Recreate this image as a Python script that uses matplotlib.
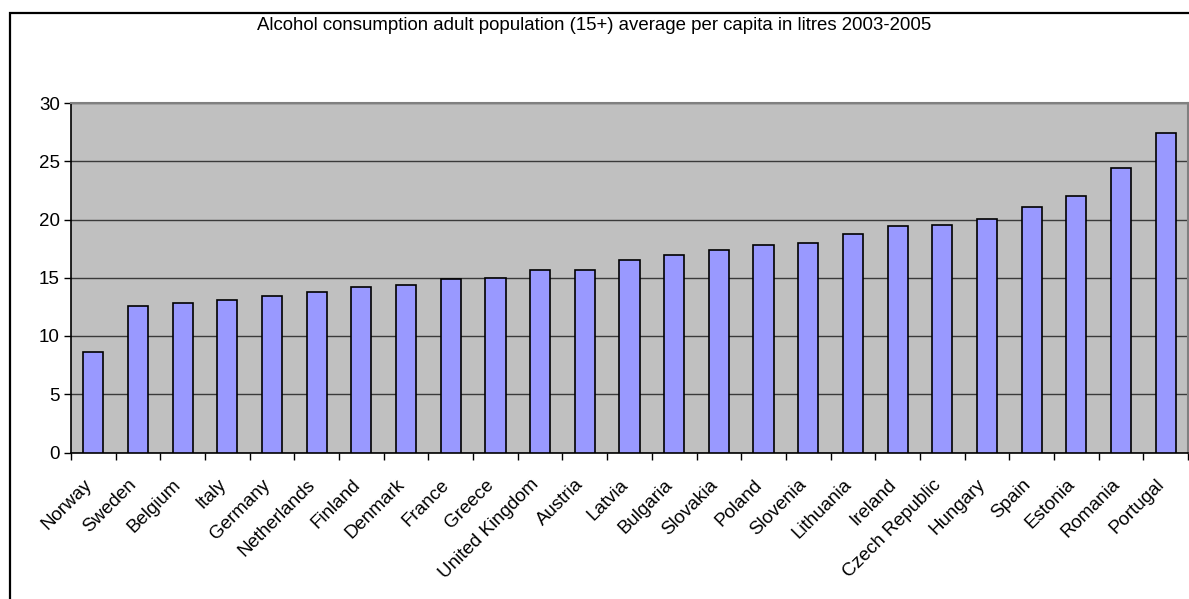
import numpy as np
import matplotlib
matplotlib.use("Agg")
import matplotlib.pyplot as plt
from matplotlib.patches import Rectangle
from matplotlib.transforms import ScaledTranslation

countries = ["Norway", "Sweden", "Belgium", "Italy", "Germany", "Netherlands",
             "Finland", "Denmark", "France", "Greece", "United Kingdom", "Austria",
             "Latvia", "Bulgaria", "Slovakia", "Poland", "Slovenia", "Lithuania",
             "Ireland", "Czech Republic", "Hungary", "Spain", "Estonia", "Romania",
             "Portugal"]
litres = [8.65, 12.55, 12.8, 13.05, 13.45, 13.8, 14.2, 14.35, 14.85, 15.0, 15.65,
          15.65, 16.55, 16.95, 17.35, 17.8, 17.95, 18.75, 19.4, 19.5, 20.05, 21.05,
          22.0, 24.45, 27.4]
yticks = [0, 5, 10, 15, 20, 25, 30]
title = "Alcohol consumption adult population (15+) average per capita in litres 2003-2005"

plt.rcParams["font.family"] = ["Liberation Sans", "DejaVu Sans"]

fig = plt.figure(figsize=(11.89, 5.99), dpi=100)
ax = fig.add_axes([71 / 1189, 1 - 452.5 / 599, 1117 / 1189, 349.5 / 599])

# outer chart frame
fig.patches.append(Rectangle((9.5 / 1189, -0.05), 1.2, 1.05 - 13 / 599,
                             transform=fig.transFigure, fill=False,
                             edgecolor="black", linewidth=1.6))

x = np.arange(len(countries))
ax.set_facecolor("#c0c0c0")
ax.bar(x, litres, width=0.45, color="#9999ff", edgecolor="black", linewidth=1.2, zorder=3)

ax.set_ylim(0, 30)
ax.set_xlim(-0.5, len(countries) - 0.5)
ax.set_yticks(yticks)
ax.yaxis.grid(True, color="#3a3a3a", linewidth=1.0, zorder=0)
ax.set_axisbelow(True)

# ticks between categories, labels under each bar
ax.set_xticks(np.arange(len(countries) + 1) - 0.5)
ax.set_xticklabels([])
ax.set_xticks(x, minor=True)
ax.set_xticklabels(countries, minor=True, rotation=45, ha="right",
                   rotation_mode="anchor", fontsize=13.5)
ax.tick_params(axis="x", which="minor", length=0, pad=12)
ax.tick_params(axis="x", which="major", length=5, width=1, direction="out")
ax.tick_params(axis="y", length=5, width=1, direction="out", labelsize=13.5, pad=3)

# nudge rotated labels left and down
shift = ScaledTranslation(-10 / 100, -7 / 100, fig.dpi_scale_trans)
for lbl in ax.get_xticklabels(minor=True):
    lbl.set_transform(lbl.get_transform() + shift)

for side in ["top", "right"]:
    ax.spines[side].set_color("#808080")
    ax.spines[side].set_linewidth(1.5)
for side in ["left", "bottom"]:
    ax.spines[side].set_color("black")
    ax.spines[side].set_linewidth(1.2)

fig.text(0.5, 1 - 26 / 599, title, ha="center", va="center", fontsize=13.4)

fig.savefig("out.png", dpi=100)
